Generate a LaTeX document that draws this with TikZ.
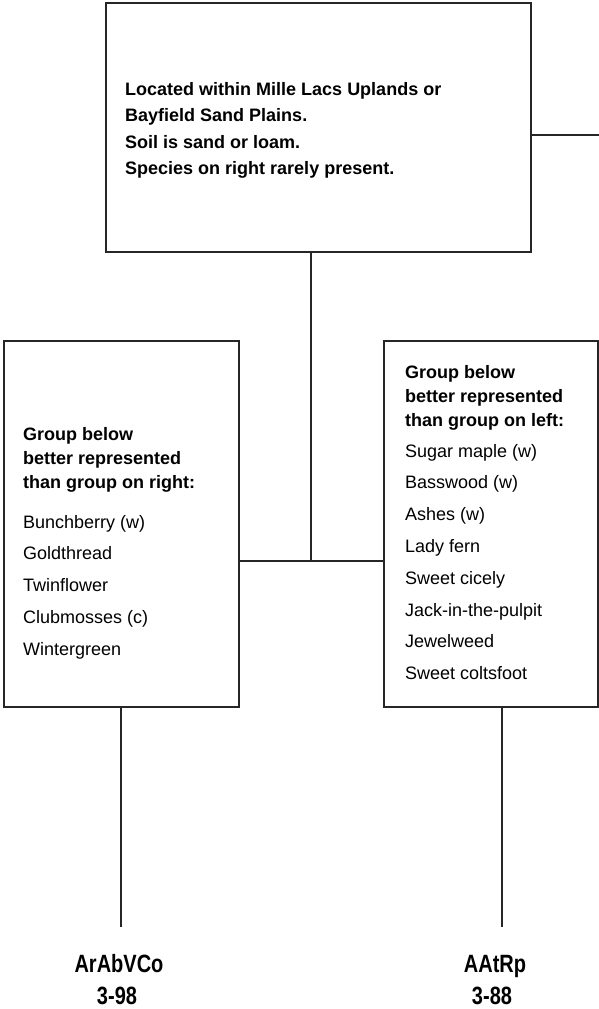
\documentclass[tikz,border=0pt]{standalone}
\usepackage{fontspec}
\setmainfont{Liberation Sans}
\newfontfamily\codefont{Liberation Sans}[FakeStretch=0.8]
\begin{document}
\begin{tikzpicture}[x=1pt,y=-1pt,
  box/.style={draw=black!85,line width=1.3pt,rectangle,inner sep=0pt},
  wire/.style={draw=black!85,line width=1.3pt},
  head/.style={anchor=base west,inner sep=0pt,font=\fontsize{18}{20}\selectfont\bfseries},
  item/.style={anchor=base west,inner sep=0pt,font=\fontsize{18}{20}\selectfont},
  code/.style={anchor=base,inner sep=0pt,font=\fontsize{25}{27}\selectfont\codefont\bfseries}]
\useasboundingbox[fill=white] (0,0) rectangle (599,1009);

% boxes
\node[box,minimum width=425pt,minimum height=249pt] (top) at (318.5,127.5) {};
\node[box,minimum width=235pt,minimum height=366pt] (left) at (121.5,524) {};
\node[box,minimum width=214pt,minimum height=366pt] (right) at (491,524) {};

% top box text
\foreach \t [count=\i] in {Located within Mille Lacs Uplands or,
    Bayfield Sand Plains.,Soil is sand or loam.,Species on right rarely present.}
  \node[head] (top-\i) at (125,{95+26.6*(\i-1)}) {\t};

% left box text
\node[head] (lh1) at (23,440) {Group below};
\node[head] (lh2) at (23,464) {better represented};
\node[head] (lh3) at (23,488) {than group on right:};
\foreach \t [count=\i] in {Bunchberry (w),Goldthread,Twinflower,Clubmosses (c),Wintergreen}
  \node[item] (li-\i) at (23,{528+31.8*(\i-1)}) {\t};

% right box text
\node[head] (rh1) at (405,378) {Group below};
\node[head] (rh2) at (405,402) {better represented};
\node[head] (rh3) at (405,426) {than group on left:};
\foreach \t [count=\i] in {Sugar maple (w),Basswood (w),Ashes (w),Lady fern,
    Sweet cicely,Jack-in-the-pulpit,Jewelweed,Sweet coltsfoot}
  \node[item] (ri-\i) at (405,{457+31.8*(\i-1)}) {\t};

% end labels
\node[code] (c1) at (119,972) {ArAbVCo};
\node[code] (n1) at (117,1004) {3-98};
\node[code] (c2) at (495,972) {AAtRp};
\node[code] (n2) at (492,1004) {3-88};

% connectors
\coordinate (rt) at (599,135);
\coordinate (j) at (311,561);
\coordinate (le) at (121,927);
\coordinate (re) at (502,927);
\draw[wire] (rt -| top.east) -- (rt);
\draw[wire] (j |- top.south) -- (j);
\draw[wire] (left.east |- j) -- (right.west |- j);
\draw[wire] (le |- left.south) -- (le);
\draw[wire] (re |- right.south) -- (re);
\end{tikzpicture}
\end{document}
